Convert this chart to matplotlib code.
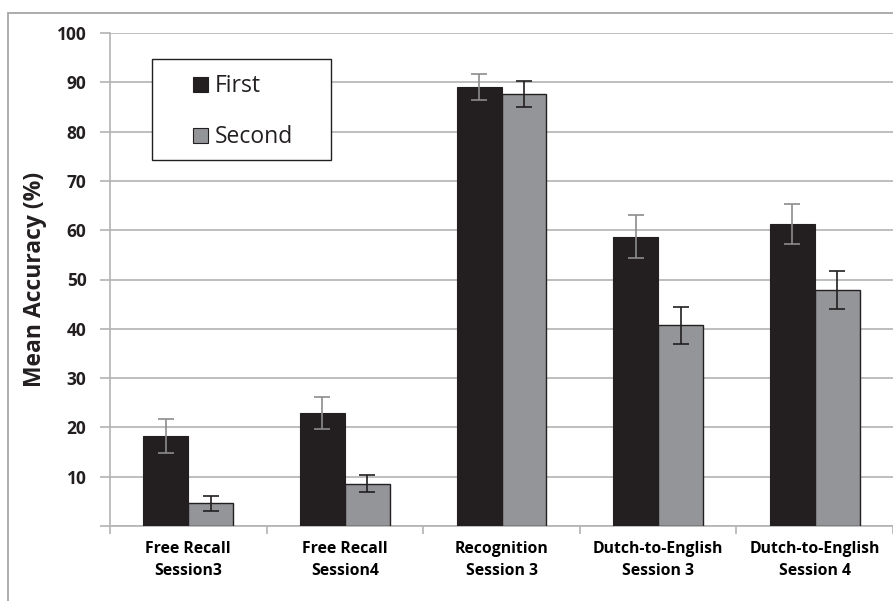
import numpy as np
import matplotlib.pyplot as plt
from matplotlib.patches import Rectangle

# Mean accuracy per test, first vs. second presentation
categories = ["Free Recall\nSession3", "Free Recall\nSession4", "Recognition\nSession 3",
              "Dutch-to-English\nSession 3", "Dutch-to-English\nSession 4"]
series = ["First", "Second"]
first = [18.3, 22.9, 89.0, 58.7, 61.3]
first_err = [3.5, 3.3, 2.6, 4.3, 4.0]
second = [4.6, 8.6, 87.6, 40.7, 47.9]
second_err = [1.5, 1.8, 2.7, 3.8, 3.9]

plt.rcParams['font.family'] = ['Open Sans', 'DejaVu Sans']

dark = '#231f20'
grey = '#939598'
line_grey = '#b3b3b3'

fig = plt.figure(figsize=(8.93, 6.01), dpi=100)
W, H = 893, 601


def px(x0, y0):
    # pixel position (from top-left) -> figure fraction
    return x0 / W, 1 - y0 / H


# thin grey frame around the whole chart
fig.patches.append(Rectangle((8 / W, -0.1), 1.1, (H - 13) / H + 0.1, transform=fig.transFigure,
                             fill=False, edgecolor='#a6a6a6', linewidth=1.3, zorder=0))

ax = fig.add_axes([110 / W, (H - 526) / H, 783 / W, 493 / H])

x = np.arange(len(categories))
w = 0.287

ax.bar(x - w / 2, first, w, color=dark, edgecolor=dark, linewidth=0.8, zorder=3)
ax.bar(x + w / 2, second, w, color=grey, edgecolor=dark, linewidth=1.0, zorder=3)
ax.errorbar(x - w / 2, first, yerr=first_err, fmt='none', ecolor='#8c8c8c',
            elinewidth=1.2, capsize=5.5, capthick=1.2, zorder=4)
ax.errorbar(x + w / 2, second, yerr=second_err, fmt='none', ecolor=dark,
            elinewidth=1.2, capsize=5.5, capthick=1.2, zorder=4)

ax.set_xlim(-0.5, -0.5 + 783 / 157)
ax.set_ylim(0, 100)

# horizontal grid
ax.set_yticks(np.arange(0, 101, 10))
ax.set_yticklabels([''] + [str(v) for v in range(10, 101, 10)], fontsize=12.5, fontweight='bold')
ax.yaxis.grid(True, color=line_grey, linewidth=1.2)
ax.set_axisbelow(True)

# category labels centred, ticks between groups
ax.set_xticks(np.arange(-0.5, 4.6, 1.0))
ax.set_xticklabels([])
ax.set_xticks(x, minor=True)
ax.set_xticklabels(categories, minor=True, fontsize=11.3, fontweight='bold', linespacing=1.5)
ax.tick_params(axis='x', which='minor', length=0, pad=11)
ax.tick_params(axis='x', which='major', length=6, color=line_grey, width=1.2)
ax.tick_params(axis='y', length=7, colors=line_grey, labelcolor=dark, width=1.2, pad=10)

for side in ['top', 'right']:
    ax.spines[side].set_visible(False)
for side in ['left', 'bottom']:
    ax.spines[side].set_color(line_grey)
    ax.spines[side].set_linewidth(1.2)

ax.set_ylabel('Mean Accuracy (%)', fontsize=16.5, fontweight='bold', labelpad=7, color=dark)

# legend box drawn by hand
fig.patches.append(Rectangle(px(152, 160), 179 / W, 101 / H, transform=fig.transFigure,
                             facecolor='white', edgecolor=dark, linewidth=1.0, zorder=5))
for name, colour, yb in zip(series, [dark, grey], [92, 143]):
    fig.patches.append(Rectangle(px(193, yb), 15 / W, 15 / H, transform=fig.transFigure,
                                 facecolor=colour, edgecolor=dark, linewidth=0.8, zorder=6))
    fig.text(*px(215, yb), name, fontsize=16.5, color=dark, va='baseline', ha='left', zorder=6)

fig.savefig('out.png', dpi=100)
